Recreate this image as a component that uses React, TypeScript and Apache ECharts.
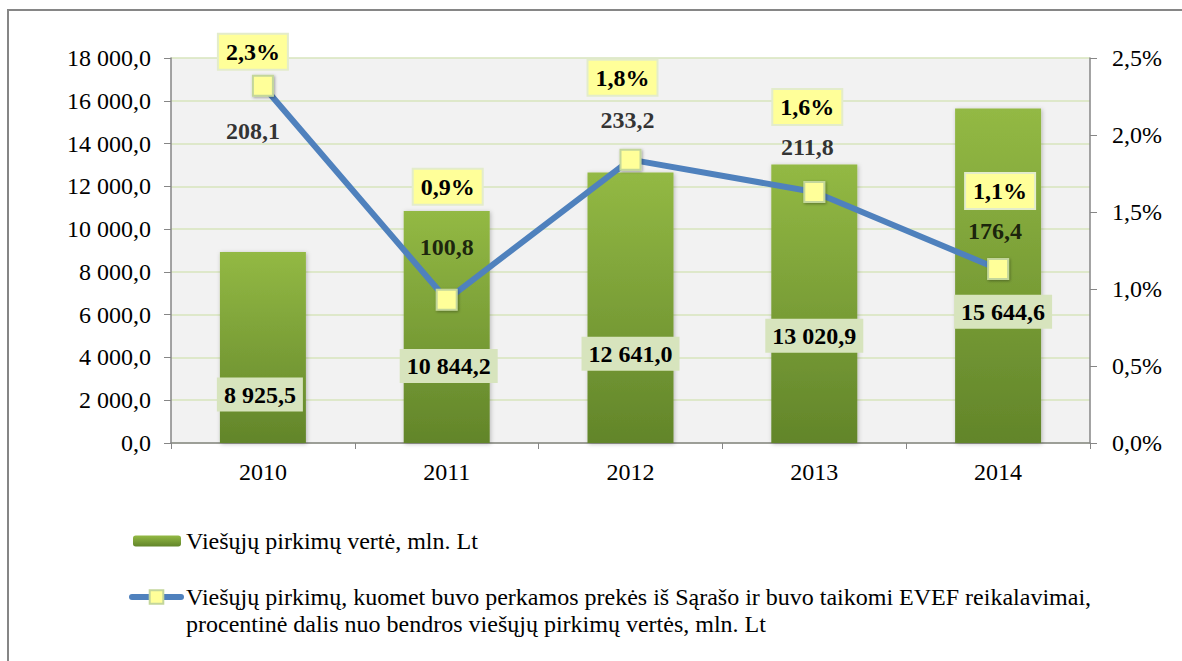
import React, { useEffect, useRef } from "react";
import * as echarts from "echarts";

const categories = ["2010", "2011", "2012", "2013", "2014"];
const purchaseValues = [8925.5, 10844.2, 12641.0, 13020.9, 15644.6];
const evefSharePct = [2.32, 0.93, 1.84, 1.63, 1.13];
const evefValues = [208.1, 100.8, 233.2, 211.8, 176.4];

const leftAxis = { min: 0, max: 18000, interval: 2000 };
const rightAxis = { min: 0, max: 2.5, interval: 0.5 };

const barName = "Viešųjų pirkimų vertė, mln. Lt";
const lineName =
  "Viešųjų pirkimų, kuomet buvo perkamos prekės iš Sąrašo ir buvo taikomi EVEF reikalavimai,";
const lineNameCont = "procentinė dalis nuo bendros viešųjų pirkimų vertės, mln. Lt";

// label layout (pixel offsets), kept apart from data
const barLabelOffsets = [[-3, 47], [2, 39], [0, 46], [0, 32], [5, 36]];
const pctLabelOffsets = [[-10, -34], [1, -113], [-8, -82], [-7, -85], [2, -78]];
const absLabelOffsets = [[-10, 45], [0, -53], [-3, -40], [-7, -45], [-3, -38]];

const FONT = "Liberation Serif";

function fmtNum(v: number, dec: number): string {
  const s = v.toFixed(dec);
  const [ip, dp] = s.split(".");
  const grouped = ip.replace(/\B(?=(\d{3})+(?!\d))/g, " ");
  return dp !== undefined ? grouped + "," + dp : grouped;
}

export default function App() {
  const ref = useRef<HTMLDivElement>(null);
  useEffect(() => {
    if (!ref.current) return;
    const chart = echarts.init(ref.current, null, { renderer: "svg" });
    const axisLine = { show: true, lineStyle: { color: "#868686", width: 1.5 } };
    const option: any = {
      animation: false,
      backgroundColor: "#ffffff",
      textStyle: { fontFamily: FONT },
      grid: {
        left: 171,
        top: 58,
        right: 92,
        bottom: 218,
        show: true,
        backgroundColor: "#f2f2f2",
        borderWidth: 0,
      },
      legend: [
        {
          data: [barName],
          left: 133,
          top: 528,
          padding: 0,
          itemWidth: 48,
          itemHeight: 11,
          textStyle: { fontFamily: FONT, fontSize: 24, color: "#000", lineHeight: 26 },
        },
        {
          data: [lineName],
          left: 129,
          top: 584,
          padding: 0,
          itemWidth: 49,
          itemHeight: 17,
          lineStyle: { width: 6, cap: "round", color: "#4f81bd" },
          textStyle: { fontFamily: FONT, fontSize: 24, color: "#000", lineHeight: 26 },
        },
      ],
      graphic: [
        {
          type: "rect",
          shape: { x: 8, y: 10, width: 1250, height: 720 },
          style: { fill: "none", stroke: "#868686", lineWidth: 2 },
          silent: true,
        },
        {
          type: "text",
          left: 186,
          top: 612,
          style: {
            text: lineNameCont,
            fontFamily: FONT,
            fontSize: 24,
            fill: "#000",
          },
        },
      ],
      xAxis: {
        type: "category",
        data: categories,
        axisLine,
        axisTick: { show: true, length: 6, lineStyle: { color: "#868686" } },
        axisLabel: { fontFamily: FONT, fontSize: 24, color: "#000", margin: 17 },
      },
      yAxis: [
        {
          type: "value",
          ...leftAxis,
          axisLine,
          axisTick: { show: true, length: 7, lineStyle: { color: "#868686" } },
          axisLabel: {
            fontFamily: FONT,
            fontSize: 24,
            color: "#000",
            margin: 20,
            formatter: (v: number) => fmtNum(v, 1),
          },
          splitLine: { show: true, lineStyle: { color: "#d7e4bd", width: 1.5 } },
        },
        {
          type: "value",
          ...rightAxis,
          position: "right",
          axisLine,
          axisTick: { show: true, length: 7, lineStyle: { color: "#868686" } },
          axisLabel: {
            fontFamily: FONT,
            fontSize: 24,
            color: "#000",
            margin: 22,
            formatter: (v: number) => v.toFixed(1).replace(".", ",") + "%",
          },
          splitLine: { show: false },
        },
      ],
      series: [
        {
          name: barName,
          type: "bar",
          yAxisIndex: 0,
          barWidth: 86,
          itemStyle: {
            color: new echarts.graphic.LinearGradient(0, 0, 0, 1, [
              { offset: 0, color: "#93b944" },
              { offset: 1, color: "#62852a" },
            ]),
            shadowBlur: 4,
            shadowColor: "rgba(0,0,0,0.25)",
            shadowOffsetX: 1,
            shadowOffsetY: 1,
          },
          label: {
            show: true,
            position: "inside",
            fontFamily: FONT,
            fontSize: 24,
            fontWeight: "bold",
            color: "#000",
            backgroundColor: "#d7e4bd",
            padding: [6, 7, 4, 7],
            formatter: (p: any) => fmtNum(p.value, 1),
          },
          data: purchaseValues.map((v, i) => ({
            value: v,
            label: { offset: barLabelOffsets[i] },
          })),
          z: 2,
        },
        {
          name: lineName,
          type: "line",
          yAxisIndex: 1,
          symbol: "rect",
          symbolSize: 20,
          lineStyle: { color: "#4f81bd", width: 6 },
          itemStyle: {
            color: "#ffff99",
            borderColor: "#c3d69b",
            borderWidth: 2,
            shadowBlur: 3,
            shadowColor: "rgba(0,0,0,0.35)",
            shadowOffsetX: 1,
            shadowOffsetY: 1,
          },
          label: {
            show: true,
            position: "inside",
            fontFamily: FONT,
            fontSize: 24,
            fontWeight: "bold",
            color: "#000",
            backgroundColor: "#ffff99",
            borderColor: "#e3eccb",
            borderWidth: 2,
            padding: [6, 7, 4, 7],
            formatter: (p: any) => p.value.toFixed(1).replace(".", ",") + "%",
          },
          data: evefSharePct.map((v, i) => ({
            value: v,
            label: { offset: pctLabelOffsets[i] },
          })),
          z: 4,
        },
        {
          name: "abs",
          type: "scatter",
          yAxisIndex: 1,
          symbol: "rect",
          symbolSize: 1,
          silent: true,
          itemStyle: { color: "rgba(0,0,0,0)" },
          label: {
            show: true,
            position: "inside",
            fontFamily: FONT,
            fontSize: 24,
            fontWeight: "bold",
            color: "#000",
            formatter: (p: any) => fmtNum(evefValues[p.dataIndex], 1),
          },
          data: evefSharePct.map((v, i) => ({
            value: v,
            label: { offset: absLabelOffsets[i] },
          })),
          z: 5,
        },
      ],
    };
    chart.setOption(option);
    return () => chart.dispose();
  }, []);
  return (
    <div
      ref={ref}
      style={{ position: "fixed", left: 0, top: 0, width: 1182, height: 661 }}
    />
  );
}
